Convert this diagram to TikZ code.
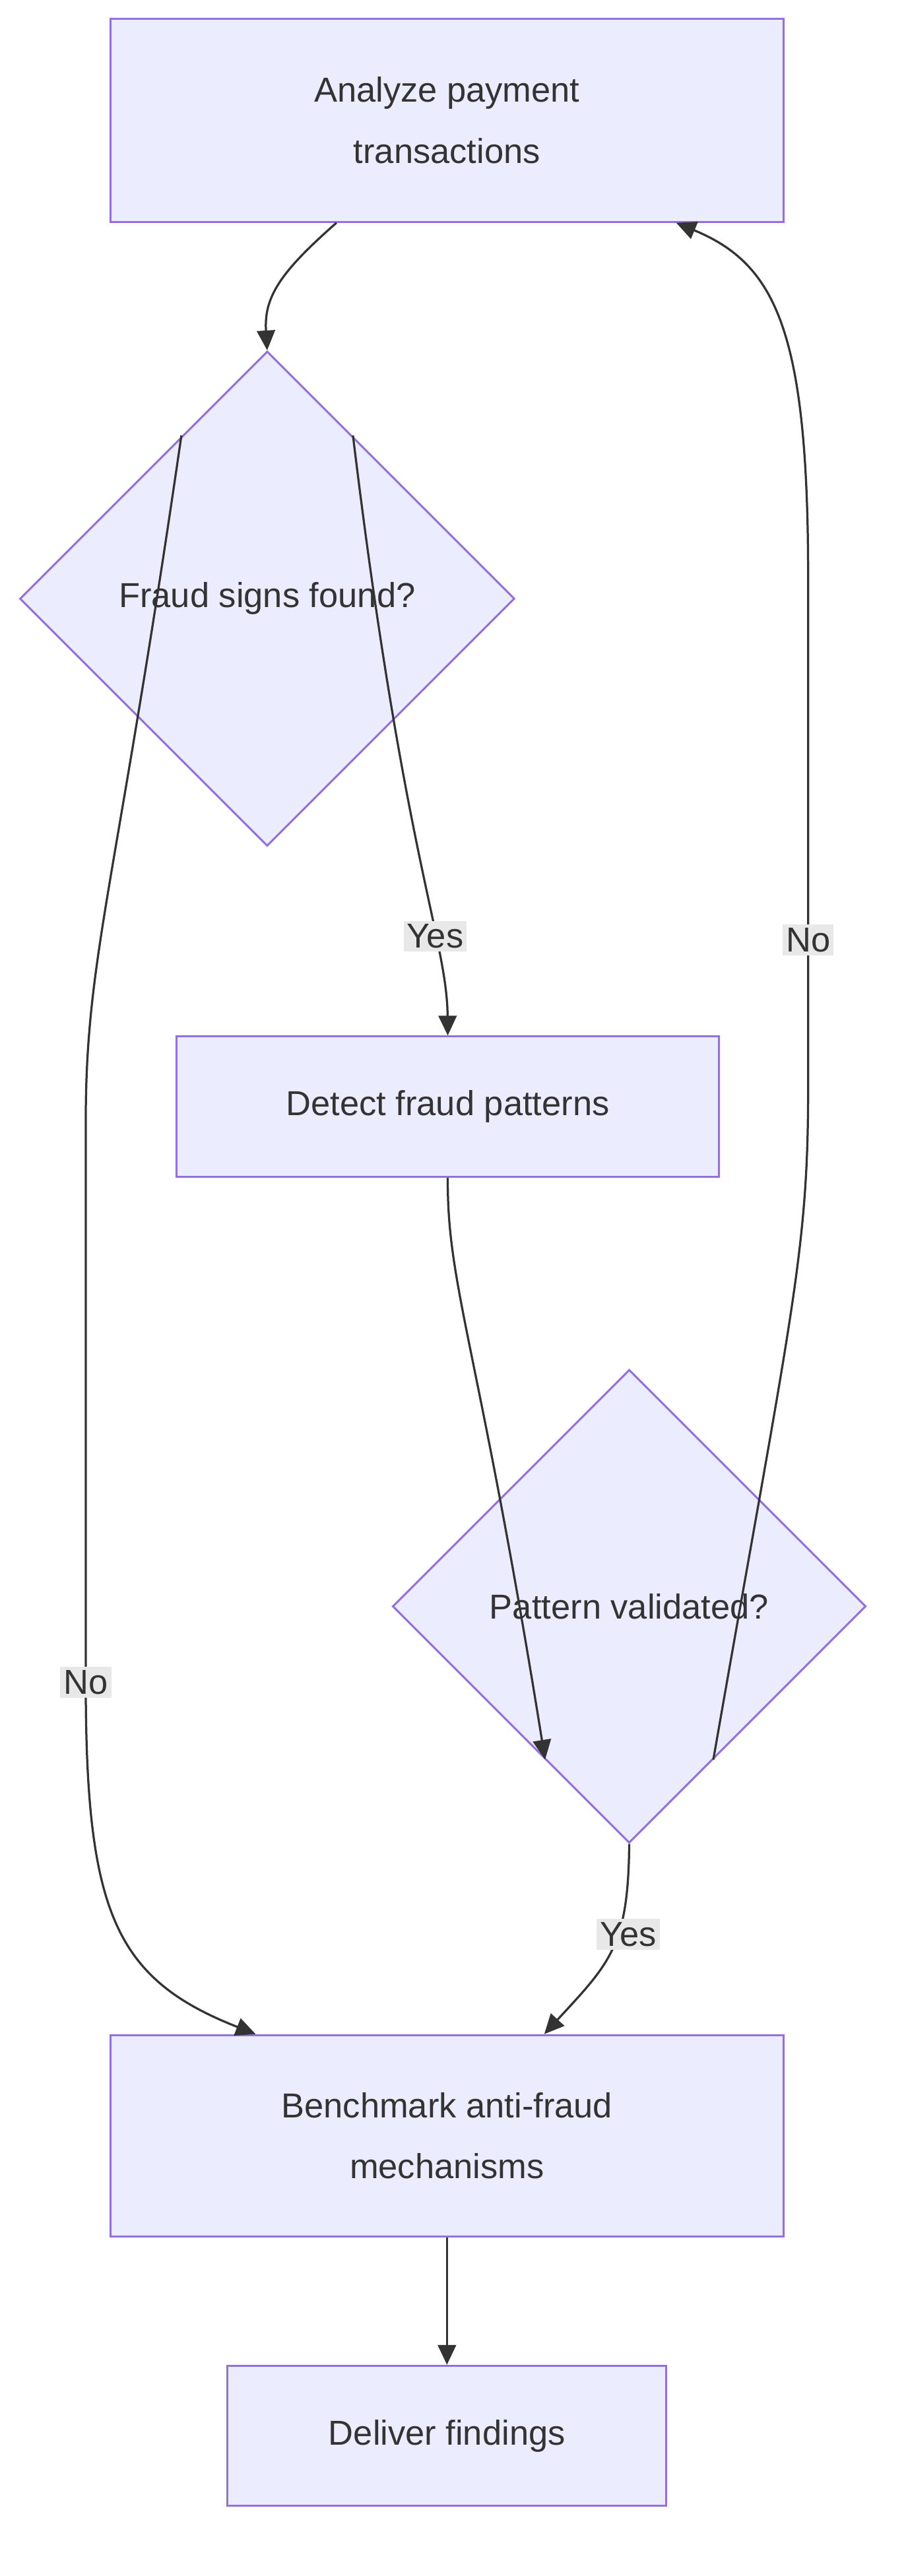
\documentclass[tikz,border=0pt]{standalone}
\usepackage{fontspec}
\setmainfont{Liberation Sans}
\usetikzlibrary{shapes.geometric,arrows.meta}
\definecolor{nfill}{HTML}{ECECFF}
\definecolor{nline}{HTML}{9370DB}
\definecolor{txt}{HTML}{333333}
\definecolor{lbg}{HTML}{E8E8E8}
\begin{document}
\begin{tikzpicture}[x=1pt,y=-1pt,
 box/.style={draw=nline,fill=nfill,line width=1.2pt,text=txt,align=center,font=\fontsize{21}{37}\selectfont,inner sep=0},
 dia/.style={box,diamond,aspect=1,minimum size=#1},
 lab/.style={fill=lbg,text=txt,font=\fontsize{21}{25}\selectfont,inner sep=2pt},
 ar/.style={draw=txt,line width=1.3pt,-{Triangle[length=12pt,width=11pt]}}]
\useasboundingbox (0,0) rectangle (549,1562);
\node[box,minimum width=408,minimum height=123] (A) at (271,73) {Analyze payment\\transactions};
\node[dia=300] (D1) at (162,363) {Fraud signs found?};
\node[box,minimum width=329,minimum height=85] (B) at (271.5,671) {Detect fraud patterns};
\node[dia=287] (D2) at (381.5,974) {Pattern validated?};
\node[box,minimum width=408,minimum height=122] (C) at (271,1295) {Benchmark anti-fraud\\mechanisms};
\node[box,minimum width=266,minimum height=85] (E) at (271,1477) {Deliver findings};
\draw[ar] ([xshift=-67pt]A.south) .. controls (170,165) and (160,180) .. (D1.north);
\draw[ar] ([shift={(52pt,99pt)}]D1.center) .. controls (245,520) and (271,570) .. (B.north) node[lab,pos=0.68] {Yes};
\draw[ar] ([shift={(-52pt,99pt)}]D1.center) .. controls (70,540) and (52,580) .. (52,680) -- (52,1020) .. controls (52,1160) and (70,1200) .. ([xshift=-116pt]C.north) node[lab,pos=0] at (52,770) {No};
\draw[ar] (B.south) .. controls (271,780) and (290,815) .. ([shift={(-51pt,-93pt)}]D2.center);
\draw[ar] ([shift={(51pt,-93pt)}]D2.center) .. controls (480,795) and (490,760) .. (490,660) -- (490,350) .. controls (490,200) and (470,160) .. ([xshift=139pt]A.south);
\node[lab] at (490,570) {No};
\draw[ar] (D2.south) .. controls (381,1180) and (370,1190) .. ([xshift=59pt]C.north);
\node[lab] at (381,1173) {Yes};
\draw[ar] (C.south) -- (E.north);
\end{tikzpicture}
\end{document}
